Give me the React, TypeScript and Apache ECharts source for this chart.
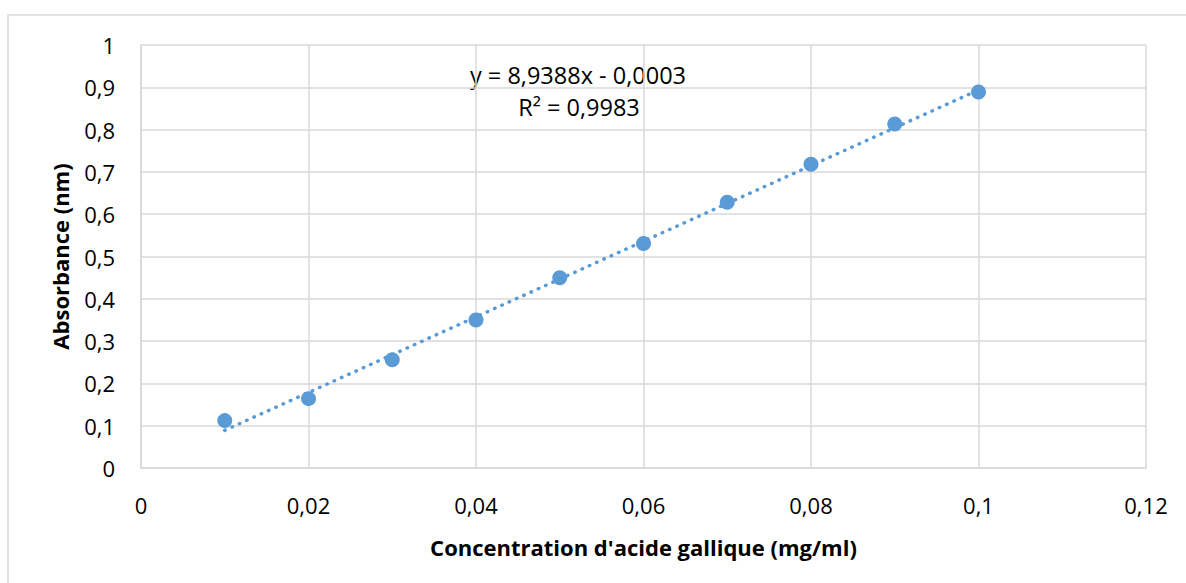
import React, { useEffect, useRef } from "react";
import * as echarts from "echarts";

const concentrations = [0.01, 0.02, 0.03, 0.04, 0.05, 0.06, 0.07, 0.08, 0.09, 0.1];
const absorbances = [0.112, 0.164, 0.256, 0.35, 0.45, 0.531, 0.628, 0.718, 0.813, 0.889];
const slope = 8.9388;
const intercept = -0.0003;
const equationText = "y = 8,9388x - 0,0003";
const r2Text = "R² = 0,9983";
const xTitle = "Concentration d'acide gallique (mg/ml)";
const yTitle = "Absorbance (nm)";

const FONT = "'Open Sans', sans-serif";
const BLUE = "#5B9BD5";
const GRID = "#d9d9d9";

export default function App() {
  const ref = useRef<HTMLDivElement>(null);
  useEffect(() => {
    if (!ref.current) return;
    const chart = echarts.init(ref.current, null, { renderer: "svg" });
    const x0 = concentrations[0];
    const x1 = concentrations[concentrations.length - 1];
    const trend = [
      [x0, slope * x0 + intercept],
      [x1, slope * x1 + intercept],
    ];
    const fmt = (v: number) => String(+v.toFixed(2)).replace(".", ",");
    chart.setOption({
      animation: false,
      backgroundColor: "#fff",
      grid: { left: 141, right: 40, top: 45, bottom: 115, containLabel: false },
      graphic: [
        {
          type: "rect",
          shape: { x: 8, y: 15, width: 1300, height: 700 },
          style: { fill: "none", stroke: GRID, lineWidth: 1.5 },
          silent: true,
          z: -10,
        },
        {
          type: "text",
          x: 578,
          y: 75,
          style: { text: equationText, font: `23.5px ${FONT}`, fill: "#000", align: "center", verticalAlign: "middle" },
        },
        {
          type: "text",
          x: 579,
          y: 107,
          style: { text: r2Text, font: `23.5px ${FONT}`, fill: "#000", align: "center", verticalAlign: "middle" },
        },
      ],
      xAxis: {
        type: "value",
        min: 0,
        max: 0.12,
        interval: 0.02,
        name: xTitle,
        nameLocation: "middle",
        nameGap: 68,
        nameTextStyle: { fontFamily: FONT, fontSize: 22, fontWeight: "bold", color: "#000" },
        axisLine: { show: true, lineStyle: { color: GRID, width: 1.5 } },
        axisTick: { show: false },
        axisLabel: { formatter: fmt, fontFamily: FONT, fontSize: 22, color: "#000", margin: 26 },
        splitLine: { show: true, lineStyle: { color: GRID, width: 1.5 } },
      },
      yAxis: {
        type: "value",
        min: 0,
        max: 1,
        interval: 0.1,
        name: yTitle,
        nameLocation: "middle",
        nameGap: 70,
        nameRotate: 90,
        nameTextStyle: { fontFamily: FONT, fontSize: 22, fontWeight: "bold", color: "#000" },
        axisLine: { show: true, lineStyle: { color: GRID, width: 1.5 } },
        axisTick: { show: false },
        axisLabel: { formatter: (v: number) => String(+v.toFixed(1)).replace(".", ","), fontFamily: FONT, fontSize: 22, color: "#000", margin: 26 },
        splitLine: { show: true, lineStyle: { color: GRID, width: 1.5 } },
      },
      series: [
        {
          type: "line",
          data: trend,
          symbol: "none",
          lineStyle: { color: BLUE, width: 3.5, type: [0.5, 7.5], cap: "round" },
          z: 2,
        },
        {
          type: "scatter",
          data: concentrations.map((c, i) => [c, absorbances[i]]),
          symbol: "circle",
          symbolSize: 15,
          itemStyle: { color: BLUE, opacity: 1 },
          z: 3,
        },
      ],
    });
    return () => chart.dispose();
  }, []);
  return <div ref={ref} style={{ position: "absolute", left: 0, top: 0, width: 1186, height: 583 }} />;
}
